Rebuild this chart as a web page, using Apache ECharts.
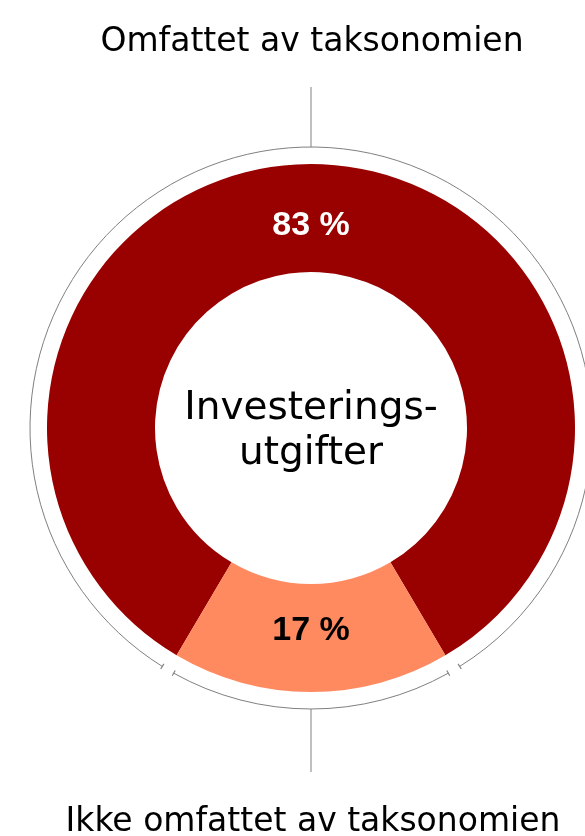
<!DOCTYPE html>
<html>
<head>
<meta charset="utf-8">
<title>Investeringsutgifter</title>
<script src="https://cdn.jsdelivr.net/npm/echarts@6/dist/echarts.min.js"></script>
<style>
  html, body { margin: 0; padding: 0; background: #ffffff; }
  #chart { width: 585px; height: 836px; }
</style>
</head>
<body>
<div id="chart"></div>
<script>
// Share of capital expenditure inside / outside the taxonomy (percent)
const categories = ['Omfattet av taksonomien', 'Ikke omfattet av taksonomien'];
const shares = [83, 17];
const centerLines = ['Investerings-', 'utgifter'];

// Layout
const CX = 311, CY = 428;
const R_INNER = 156, R_OUTER = 264;
const R_LABEL_OUTER = 243;      // so inside labels sit at (156 + 243) / 2
const R_FRAME = 281;            // thin grey frame around the donut
const COLORS = ['#990000', '#FF8A60'];
const FRAME_COLOR = '#808080';
const TEXT_FONT = '"DejaVu Sans", sans-serif';

const total = shares.reduce((a, b) => a + b, 0);
// The first slice is centred on the top, so the second one is centred on the bottom.
const firstSpanDeg = shares[0] / total * 360;
const startAngle = 90 + firstSpanDeg / 2;

const pieData = categories.map((name, i) => ({
  name: name,
  value: shares[i],
  itemStyle: { color: COLORS[i] },
  label: {
    color: i === 0 ? '#ffffff' : '#000000'
  }
}));

// Frame arcs: split where the slices meet (canvas angles, clockwise from 3 o'clock)
const deg = Math.PI / 180;
const secondHalf = (shares[1] / total * 360) / 2;
const bRight = (90 - secondHalf) * deg;   // lower-right boundary
const bLeft = (90 + secondHalf) * deg;    // lower-left boundary
const GAP = 1.35 * deg;

function capLine(angle) {
  return {
    type: 'line',
    silent: true,
    shape: {
      x1: CX + (R_FRAME - 3) * Math.cos(angle),
      y1: CY + (R_FRAME - 3) * Math.sin(angle),
      x2: CX + (R_FRAME + 3) * Math.cos(angle),
      y2: CY + (R_FRAME + 3) * Math.sin(angle)
    },
    style: { stroke: FRAME_COLOR, lineWidth: 1.2 }
  };
}

const graphics = [
  // long arc around the larger slice
  {
    type: 'arc', silent: true,
    shape: { cx: CX, cy: CY, r: R_FRAME, startAngle: bLeft + GAP, endAngle: 2 * Math.PI + bRight - GAP, clockwise: true },
    style: { stroke: FRAME_COLOR, lineWidth: 1, fill: null }
  },
  // short arc around the smaller slice
  {
    type: 'arc', silent: true,
    shape: { cx: CX, cy: CY, r: R_FRAME, startAngle: bRight + GAP, endAngle: bLeft - GAP, clockwise: true },
    style: { stroke: FRAME_COLOR, lineWidth: 1, fill: null }
  },
  capLine(bLeft + GAP), capLine(bLeft - GAP),
  capLine(bRight + GAP), capLine(bRight - GAP),
  // leader lines to the category captions
  {
    type: 'line', silent: true,
    shape: { x1: CX, y1: 87, x2: CX, y2: CY - R_FRAME },
    style: { stroke: FRAME_COLOR, lineWidth: 1 }
  },
  {
    type: 'line', silent: true,
    shape: { x1: CX, y1: CY + R_FRAME, x2: CX, y2: 772 },
    style: { stroke: FRAME_COLOR, lineWidth: 1 }
  },
  // caption in the hole
  {
    type: 'text', silent: true,
    style: {
      x: CX, y: CY + 3,
      text: centerLines.join('\n'),
      font: '39px ' + TEXT_FONT,
      lineHeight: 45,
      fill: '#000000',
      align: 'center',
      verticalAlign: 'middle'
    }
  },
  // category captions
  {
    type: 'text', silent: true,
    style: {
      x: 312, y: 42,
      text: categories[0],
      font: '33px ' + TEXT_FONT,
      fill: '#000000',
      align: 'center',
      verticalAlign: 'middle'
    }
  },
  {
    type: 'text', silent: true,
    style: {
      x: 313, y: 822,
      text: categories[1],
      font: '33px ' + TEXT_FONT,
      fill: '#000000',
      align: 'center',
      verticalAlign: 'middle'
    }
  }
];

const chart = echarts.init(document.getElementById('chart'), null, { renderer: 'canvas' });
chart.setOption({
  animation: false,
  backgroundColor: '#ffffff',
  series: [
    {
      type: 'pie',
      center: [CX, CY],
      radius: [R_INNER, R_OUTER],
      startAngle: startAngle,
      clockwise: true,
      silent: true,
      label: { show: false },
      labelLine: { show: false },
      itemStyle: { borderWidth: 0 },
      data: pieData
    },
    {
      // transparent copy that only carries the percentage labels
      type: 'pie',
      center: [CX, CY],
      radius: [R_INNER, R_LABEL_OUTER],
      startAngle: startAngle,
      clockwise: true,
      silent: true,
      z: 3,
      itemStyle: { color: 'rgba(0,0,0,0)', borderWidth: 0 },
      label: {
        show: true,
        position: 'inside',
        formatter: p => p.value + ' %',
        fontFamily: '"Liberation Sans", Arial, sans-serif',
        fontWeight: 'bold',
        fontSize: 34
      },
      labelLine: { show: false },
      data: pieData.map(d => ({ name: d.name, value: d.value, label: d.label, itemStyle: { color: 'rgba(0,0,0,0)' } }))
    }
  ],
  graphic: graphics
});
</script>
</body>
</html>
